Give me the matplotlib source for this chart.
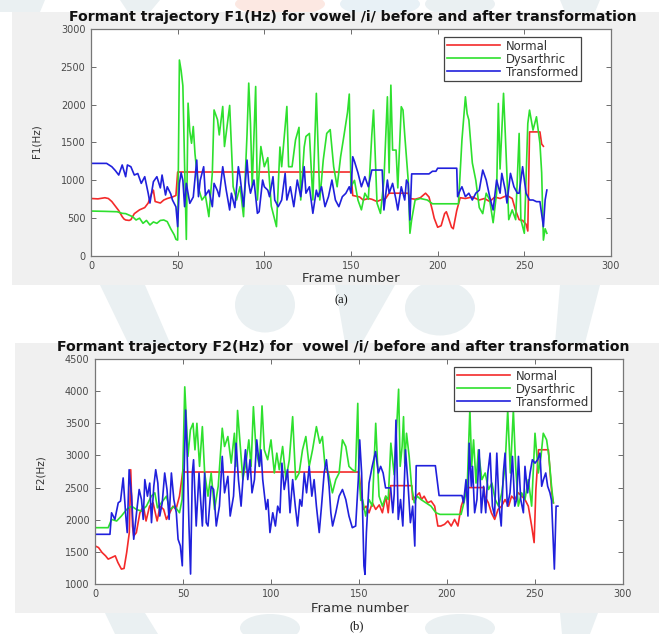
import matplotlib
matplotlib.use('Agg')
import matplotlib.pyplot as plt
from matplotlib.patches import Rectangle, Polygon, Ellipse

# ---------------- data ----------------
frame_ticks = [0, 50, 100, 150, 200, 250, 300]
f1_ticks = [0, 500, 1000, 1500, 2000, 2500, 3000]
f2_ticks = [1000, 1500, 2000, 2500, 3000, 3500, 4000, 4500]
series_names = ["Normal", "Dysarthric", "Transformed"]

f1_normal_x = [0, 4, 8, 10, 12, 14, 16, 18, 19, 20, 22, 23, 25, 28, 31, 33, 35, 36, 37, 40, 42, 44, 47, 49,
               50, 150, 151, 153, 155, 157, 160, 162, 165, 167, 170, 172, 183, 184, 187, 190, 193, 195,
               197, 198, 200, 202, 204, 205, 206, 208, 209, 211, 213, 216, 220, 224, 227, 230, 233, 236,
               240, 243, 245, 247, 249, 251, 252, 253, 259, 260, 261]
f1_normal_y = [760, 755, 770, 760, 720, 660, 600, 520, 490, 476, 470, 480, 560, 610, 640, 700, 830, 870, 720,
               700, 740, 760, 780, 800, 1110, 1110, 800, 790, 780, 740, 760, 750, 720, 740, 760, 830, 830,
               760, 750, 770, 830, 780, 600, 500, 380, 400, 560, 585, 520, 380, 360, 600, 770, 760, 780,
               740, 760, 720, 780, 760, 800, 760, 600, 480, 470, 420, 330, 1640, 1640, 1480, 1450]

f1_dys_x = [0, 8, 15, 18, 20, 22, 24, 26, 28, 30, 32, 34, 36, 38, 40, 42, 44, 46, 48, 49, 50, 51, 52, 53,
            54, 55, 56, 57, 58, 59, 60, 62, 64, 66, 68, 70, 71, 73, 74, 76, 77, 78, 80, 82, 84, 86, 88,
            90, 91, 92, 93, 95, 96, 98, 100, 102, 104, 107, 109, 110, 111, 113, 114, 116, 118, 120, 121,
            123, 124, 126, 128, 130, 132, 134, 136, 138, 140, 142, 144, 146, 148, 149, 150, 152, 154,
            156, 158, 160, 162, 163, 165, 167, 169, 171, 172, 173, 174, 176, 177, 179, 180, 181, 183,
            184, 185, 187, 190, 194, 197, 212, 213, 214, 216, 217, 218, 220, 222, 224, 226, 228, 230,
            232, 234, 235, 236, 238, 239, 241, 243, 245, 247, 248, 250, 252, 253, 255, 257, 259, 260,
            261, 262, 263]
f1_dys_y = [594, 590, 585, 564, 560, 540, 520, 476, 500, 432, 470, 410, 450, 432, 470, 476, 454, 360, 280,
            220, 210, 2590, 2450, 2250, 1200, 220, 2020, 1650, 1490, 1711, 1350, 900, 740, 800, 520, 1100,
            1930, 1800, 1600, 1976, 1447, 1623, 1990, 917, 740, 917, 520, 1600, 2285, 1756, 917, 2240,
            740, 1447, 1180, 1300, 660, 388, 1440, 1180, 1440, 1976, 1180, 1180, 1535, 1700, 740, 1440,
            1580, 1620, 740, 2150, 740, 1270, 1620, 1670, 1180, 915, 1310, 1600, 1900, 2140, 916, 1000,
            740, 610, 830, 750, 1600, 1929, 700, 563, 1000, 2104, 1100, 2258, 1400, 1400, 900, 1973,
            1928, 1600, 1000, 300, 480, 740, 760, 740, 690, 690, 1100, 1532, 2104, 1880, 1797, 1230,
            1000, 640, 560, 830, 740, 440, 830, 2016, 1150, 2150, 1620, 480, 610, 480, 1620, 480, 300,
            1752, 1928, 1664, 1840, 1488, 1100, 210, 360, 300]

f1_tr_x = [0, 9, 12, 14, 16, 18, 20, 21, 23, 25, 27, 29, 31, 33, 34, 36, 38, 40, 41, 43, 44, 46, 47, 49,
           50, 51, 52, 53, 54, 55, 57, 59, 61, 62, 63, 65, 66, 68, 70, 71, 73, 74, 76, 78, 80, 81, 83,
           85, 86, 88, 90, 91, 92, 94, 96, 97, 99, 100, 102, 103, 105, 106, 108, 110, 112, 113, 115,
           117, 119, 121, 123, 124, 126, 128, 130, 131, 133, 135, 137, 139, 141, 143, 145, 147, 149,
           150, 151, 152, 154, 156, 158, 160, 162, 168, 169, 171, 172, 174, 176, 177, 179, 181, 182,
           183, 184, 185, 195, 197, 199, 200, 211, 211.5, 213, 214, 216, 218, 220, 222, 224, 226, 228,
           230, 232, 234, 236, 237, 239, 240, 242, 244, 246, 247, 249, 251, 253, 255, 257, 259, 261,
           262, 263]
f1_tr_y = [1224, 1224, 1180, 1130, 1070, 1203, 1048, 1203, 1180, 1070, 1090, 960, 1048, 828, 700, 982,
           1048, 900, 1070, 806, 915, 820, 740, 650, 388, 960, 1100, 1000, 652, 960, 696, 780, 1268, 784,
           1000, 1180, 800, 872, 652, 960, 860, 784, 1180, 872, 608, 830, 640, 1180, 1048, 652, 1268,
           960, 830, 1004, 564, 586, 1004, 915, 870, 784, 1048, 740, 652, 740, 1092, 740, 915, 652, 1004,
           784, 1180, 830, 915, 564, 870, 784, 915, 652, 784, 1004, 740, 652, 784, 828, 915, 830, 1312,
           1250, 1100, 915, 1048, 915, 1136, 1136, 608, 1004, 830, 960, 740, 608, 915, 740, 1004, 960,
           476, 1085, 1085, 1120, 1120, 1160, 1160, 784, 872, 915, 784, 830, 740, 830, 870, 1136, 1004,
           784, 608, 1004, 830, 1092, 870, 700, 1092, 915, 830, 830, 1180, 830, 740, 740, 718, 718, 388,
           740, 872]

f2_normal_x = [0, 2, 4, 6, 7.5, 9.5, 11.5, 13, 15, 16.5, 18, 19.5, 20.3, 21.3, 22, 23.5, 25.5, 27.5, 29,
               31, 33, 35.3, 37, 39, 40.6, 42.5, 44.3, 46, 48, 50, 51, 150, 151, 152.5, 154, 155.7, 157.6,
               159.5, 161.5, 163.3, 165.2, 166.6, 168, 180, 180.5, 182.4, 184.3, 185.5, 187, 189, 191, 193,
               194.8, 196.5, 198.6, 200.5, 202.4, 204.3, 206.2, 208.1, 210, 211, 221, 221.5, 223.5, 225.2,
               227.1, 229, 231, 233, 235, 236.7, 238.5, 240.5, 242.5, 244.3, 246.2, 248.1, 249.5, 250.5,
               252, 257.6, 259.5, 260.5]
f2_normal_y = [1593, 1567, 1490, 1438, 1387, 1412, 1438, 1335, 1232, 1242, 1490, 1800, 2778, 1902, 1747,
               1800, 2108, 2211, 1980, 2211, 2263, 1980, 2211, 2160, 2005, 2108, 2211, 2160, 2366, 2778,
               2742, 2742, 2470, 2160, 2211, 2108, 2263, 2160, 2230, 2108, 2366, 2108, 2530, 2530, 2314,
               2366, 2418, 2314, 2366, 2263, 2290, 2211, 1902, 1902, 1928, 1980, 1902, 2005, 1902, 2211,
               2366, 2500, 2500, 2366, 2263, 2108, 2005, 2160, 2211, 2314, 2211, 2366, 2314, 2418, 2366,
               2314, 2211, 1902, 1644, 2470, 3088, 3088, 2418, 2263]

f2_dys_x = [0, 7.5, 9.4, 12.3, 15, 18, 20.8, 23.5, 26.4, 29.2, 32, 34, 35.5, 37.7, 40.6, 42.5, 45.3, 48,
            49.5, 51, 52, 52.8, 54.2, 55.7, 56.8, 57.9, 59.4, 61, 62.3, 64.2, 66, 67.9, 70, 72.3, 73.6,
            75.5, 77.4, 79.2, 80, 81, 84, 86, 87.4, 88.7, 90, 91.5, 93.4, 94.9, 96.2, 98.1, 100, 101.9,
            103.3, 104.7, 106.6, 108.5, 110.4, 112.3, 114, 116, 117.9, 119.8, 121.7, 123.6, 125.8, 127.7,
            129.2, 130.7, 132.6, 134.9, 136.8, 138.7, 140.6, 142.5, 144.3, 146.2, 148, 149.3, 150, 151,
            152, 153.8, 155.7, 157.6, 159.5, 161.4, 163.3, 165.2, 166.6, 168.1, 170, 172.5, 173.4, 174.5,
            175.3, 176, 177, 178.5, 179.8, 181.4, 183, 185.2, 188, 190.9, 193.7, 196, 208, 209.6, 211.5,
            213, 214, 215.1, 216.5, 217.8, 219.8, 221.7, 223.6, 225.5, 227.4, 229.3, 231.1, 233, 234.5,
            236, 237.7, 239, 240.5, 242.4, 244.3, 246.2, 248.1, 250, 251.9, 253.4, 254.7, 256.6, 257.9,
            259.4, 260.4]
f2_dys_y = [1876, 1876, 2005, 1980, 2057, 2160, 2211, 2160, 2134, 2211, 2366, 2418, 2185, 2263, 2366, 2160,
            2211, 2108, 2314, 4067, 3500, 2985, 3397, 3500, 3087, 3500, 2830, 3448, 2727, 2366, 2727, 2160,
            2520, 3423, 3139, 3294, 2880, 3345, 2830, 3700, 2624, 2933, 3242, 2830, 3758, 3087, 2830, 3770,
            3087, 2933, 3242, 2727, 3036, 2778, 3139, 2624, 2933, 3603, 2624, 2727, 3087, 3294, 2830, 3087,
            3448, 3190, 3294, 2830, 2727, 2418, 2624, 2727, 3242, 3139, 2830, 2778, 2750, 3810, 2700, 2300,
            2314, 2057, 2314, 2211, 3500, 2366, 2211, 2366, 2314, 3191, 2700, 4030, 2830, 3139, 3603, 2880,
            3345, 2985, 2540, 2263, 2366, 2314, 2263, 2211, 2108, 2083, 2083, 2263, 2520, 3730, 2830, 3242,
            2570, 3087, 2624, 2727, 2470, 2570, 2314, 2211, 2418, 2830, 3706, 2727, 3706, 2830, 2211, 2418,
            2314, 2624, 2211, 3345, 2727, 2985, 3345, 3242, 2985, 2520, 2263]

f2_tr_x = [0, 8.5, 9.4, 11.3, 13.2, 14.5, 16, 17.5, 18.3, 19.4, 20.8, 22, 23.6, 25.1, 26.4, 27.4, 28.3,
           29.8, 31.1, 32.1, 33.4, 34.5, 35.7, 36.8, 38.2, 39.6, 40.9, 42.1, 43.4, 44.8, 46.2, 47.2, 48.5,
           49.6, 50.4, 51.5, 52.3, 53.4, 54.3, 55.3, 56, 57.5, 59.1, 60, 61, 62.3, 63.2, 64.2, 66, 67.4,
           68.9, 70.7, 72.3, 73.6, 75.5, 76.8, 78.7, 80.2, 81.5, 83, 84.3, 85.5, 86.8, 88.1, 89.2, 90.6,
           91.9, 93.4, 94.3, 95.3, 97.2, 98.2, 99.4, 101, 102.5, 103.8, 105.1, 106.2, 107.5, 109.4, 110.8,
           112.3, 113.8, 115.1, 116.4, 117.5, 118.9, 120.2, 121.7, 123.2, 124.5, 125.8, 127.4, 128.7,
           130.2, 131.5, 133, 134, 135, 136.8, 138.7, 140.6, 142.5, 144.3, 146.2, 148.1, 149.6, 150.4,
           151.5, 152.8, 153.4, 154.2, 155.7, 157.5, 159.4, 161, 162.3, 163.7, 165.1, 168, 169.2, 170,
           171, 172.3, 173.6, 174.9, 176.4, 177.8, 179.2, 180.5, 181.7, 182.5, 193.4, 195.5, 208.5, 209.4,
           210.8, 211.9, 212.6, 213.8, 214.5, 215.7, 217, 218.3, 219.5, 220.8, 222, 223.2, 224.5, 225.8,
           227, 228.3, 229.6, 230.8, 232, 233, 234.3, 235.8, 237.2, 238.5, 239.6, 240.6, 241.9, 243.4,
           244.3, 245.8, 247.2, 248.5, 250, 251.5, 252.8, 253.8, 254.8, 256.1, 257.2, 258.5, 259.4, 261,
           262, 263]
f2_tr_y = [1773, 1773, 2108, 2005, 2263, 2290, 2650, 2057, 1800, 2778, 2366, 1696, 2108, 2470, 2314, 2005,
           2624, 2366, 2570, 1954, 2520, 2778, 2570, 2057, 2263, 2727, 2470, 2005, 2727, 2314, 2108, 1696,
           1593, 1283, 2470, 3706, 3087, 1902, 1155, 2727, 2933, 1902, 2727, 2314, 1902, 2727, 1954, 1902,
           2520, 2470, 1902, 2211, 2985, 2418, 2675, 2057, 2366, 3190, 2624, 2211, 2727, 3088, 2624, 2933,
           2418, 2624, 3242, 2830, 3087, 2624, 2160, 2314, 1800, 2108, 1902, 2211, 2108, 2880, 2470, 2778,
           2108, 2624, 2211, 1902, 2314, 2211, 2727, 2418, 2830, 2366, 2624, 2211, 1800, 2211, 2727, 2933,
           2520, 2108, 1902, 2108, 2366, 2470, 2314, 2057, 1876, 1902, 2624, 3242, 2727, 1283, 1150, 1800,
           2570, 2830, 3060, 2727, 2830, 2727, 2495, 2495, 2108, 2400, 3550, 2005, 2314, 1902, 3088, 2570,
           1954, 2211, 1590, 2840, 2840, 2376, 2376, 2263, 2624, 2057, 3190, 2520, 2830, 2108, 2314, 3088,
           2108, 2520, 2108, 2727, 3036, 2211, 2057, 3036, 2211, 1902, 2727, 3036, 2211, 2418, 2985, 2211,
           2314, 2985, 2314, 2108, 2830, 2418, 2727, 2933, 2880, 2933, 3036, 2520, 2624, 2727, 2520, 2418,
           2300, 1232, 2211, 2211]

# ---------------- figure / layout ----------------
W, H = 659, 634
fig = plt.figure(figsize=(W / 100, H / 100), dpi=100)
fig.patch.set_facecolor('white')


def fx(px):
    return px / W


def fy(py):
    return 1 - py / H


# faint watermark shapes behind the page
wm = '#eaf0f2'
shapes = [
    [(0, 0), (45, 0), (40, 12), (0, 12)],
    [(120, 0), (160, 0), (150, 12), (128, 12)],
    [(560, 0), (600, 0), (595, 12), (565, 12)],
    [(100, 285), (145, 285), (170, 343), (128, 343)],
    [(335, 285), (395, 285), (362, 343), (345, 343)],
    [(560, 285), (600, 285), (585, 343), (555, 343)],
    [(105, 613), (145, 613), (158, 634), (115, 634)],
    [(560, 613), (598, 613), (590, 634), (562, 634)],
]
for pts in shapes:
    fig.patches.append(Polygon([(fx(a), fy(b)) for a, b in pts], closed=True,
                               transform=fig.transFigure, facecolor=wm, edgecolor='none', zorder=0))
for cx, cy, w, h, col in [(265, 305, 60, 55, wm), (440, 308, 70, 55, wm), (270, 628, 60, 28, wm),
                          (460, 628, 70, 28, wm), (280, 4, 90, 24, '#fce8e2'), (380, 4, 80, 24, '#e8f1f6'),
                          (460, 4, 70, 24, wm)]:
    fig.patches.append(Ellipse((fx(cx), fy(cy)), w / W, h / H, transform=fig.transFigure,
                               facecolor=col, edgecolor='none', zorder=0))

panel = '#f0f0f0'
fig.patches.append(Rectangle((fx(12), fy(285)), fx(659 - 12), (285 - 12) / H, transform=fig.transFigure,
                             facecolor=panel, edgecolor='none', zorder=1))
fig.patches.append(Rectangle((fx(15), fy(613)), fx(659 - 15), (613 - 343) / H, transform=fig.transFigure,
                             facecolor=panel, edgecolor='none', zorder=1))

colors = ['#f42a2a', '#2ee02e', '#2020dc']
tick_col = '#4a4a4a'


def make_axes(rect_px, xs, ys, yticks, ylabel, legend_px, title, title_kw, xlabel_px, ylabel_px, tag, tag_px):
    l, t, r, b = rect_px
    ax = fig.add_axes([fx(l), fy(b), (r - l) / W, (b - t) / H])
    ax.set_zorder(2)
    for x, y, c, n in zip(xs, ys, colors, series_names):
        ax.plot(x, y, color=c, lw=1.2, label=n)
    ax.set_xlim(frame_ticks[0], frame_ticks[-1])
    ax.set_ylim(yticks[0], yticks[-1])
    ax.set_xticks(frame_ticks)
    ax.set_yticks(yticks)
    ax.tick_params(direction='in', length=3.5, width=0.6, color='#555555', labelsize=7,
                   labelcolor=tick_col, top=True, right=True, pad=4)
    ax.tick_params(axis='x', pad=3.5)
    for s in ax.spines.values():
        s.set_color('#777777')
        s.set_linewidth(0.9)
    # legend
    lx, ly = legend_px
    leg = ax.legend(loc='upper left', bbox_to_anchor=((lx - l) / (r - l), 1 - (ly - t) / (b - t)),
                    borderaxespad=0, fontsize=8.4, frameon=True, fancybox=False, framealpha=1,
                    edgecolor='#444444', handlelength=4.6, handletextpad=0.5, borderpad=0.22,
                    labelspacing=0.0)
    leg.get_frame().set_linewidth(0.9)
    for txt in leg.get_texts():
        txt.set_color('#333333')
    # texts
    fig.text(fx(title_kw[0]), fy(title_kw[1]), title, ha=title_kw[2], va='center', fontsize=10.2,
             fontweight='bold', color='#111111', zorder=5)
    fig.text(fx(xlabel_px[0]), fy(xlabel_px[1]), 'Frame number', ha='center', va='center', fontsize=9.5,
             color='#333333', zorder=5)
    fig.text(fx(ylabel_px[0]), fy(ylabel_px[1]), ylabel, ha='center', va='center', fontsize=7.5,
             rotation=90, color='#333333', zorder=5)
    fig.text(fx(tag_px[0]), fy(tag_px[1]), tag, ha='center', va='center', fontsize=9,
             family='Liberation Serif', color='#111111', zorder=5)
    return ax


make_axes((91, 29, 611, 256), [f1_normal_x, f1_dys_x, f1_tr_x], [f1_normal_y, f1_dys_y, f1_tr_y],
          f1_ticks, 'F1(Hz)', (444, 37),
          'Formant trajectory F1(Hz) for vowel /i/ before and after transformation', (353, 17.5, 'center'),
          (351, 279), (37, 141), '(a)', (341, 300))

make_axes((95, 359, 623, 584), [f2_normal_x, f2_dys_x, f2_tr_x], [f2_normal_y, f2_dys_y, f2_tr_y],
          f2_ticks, 'F2(Hz)', (454, 367),
          'Formant trajectory F2(Hz) for  vowel /i/ before and after transformation', (57, 347.5, 'left'),
          (360, 608), (40, 472), '(b)', (357, 626))

fig.savefig('out.png', dpi=100)
